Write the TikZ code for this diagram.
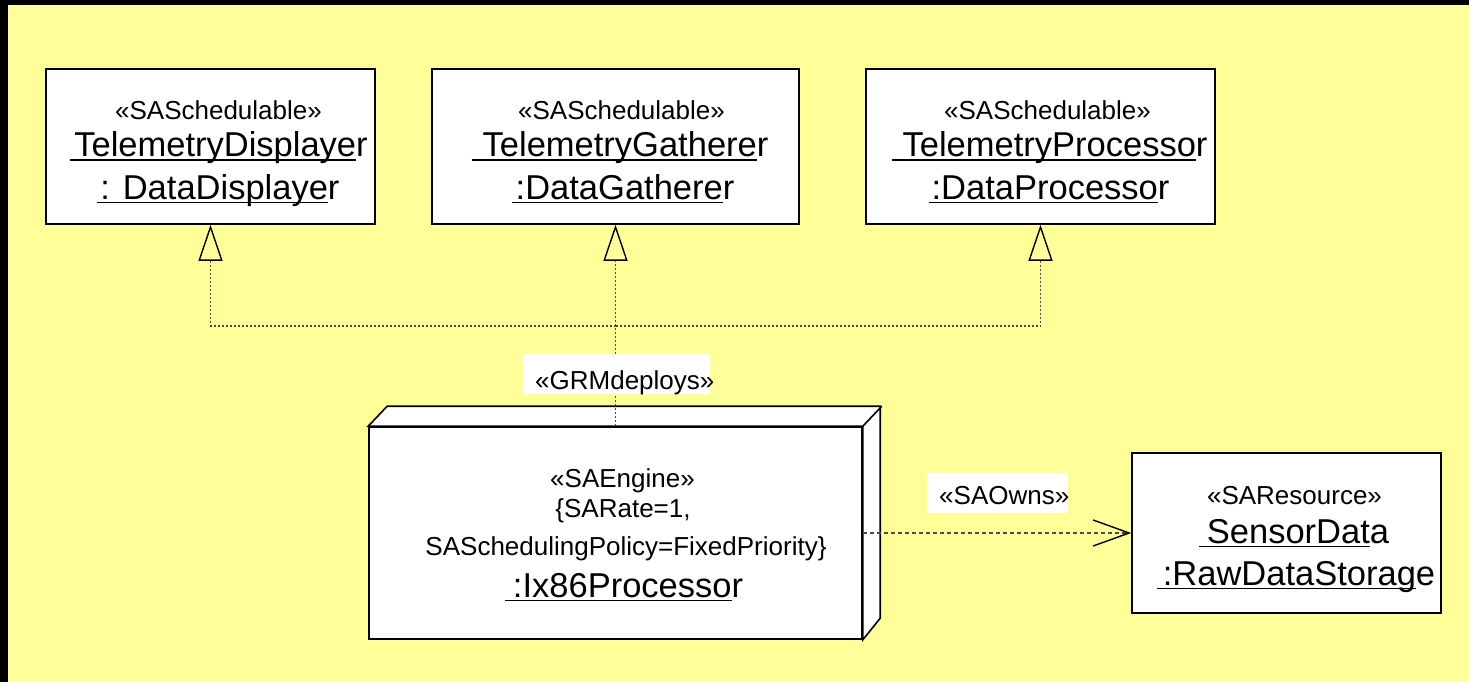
\documentclass[tikz,border=0pt]{standalone}
\usepackage{fontspec}
\setmainfont{Liberation Sans}
\usetikzlibrary{arrows.meta,calc}
\definecolor{notepaper}{HTML}{FFFF99}
\definecolor{linkgray}{HTML}{4A4A4A}

% underline everything but the trailing glyph(s), starting a little before the text
\newlength\ulw
\newcommand\ulname[3]{%
  \settowidth\ulw{#2}%
  \llap{\rule[-4.3pt]{#1}{1.8pt}}\rlap{\rule[-4.3pt]{\ulw}{1.8pt}}#2#3}

\tikzset{
  objbox/.style={draw=black, line width=1.6pt, fill=white, inner sep=0pt},
  stereo/.style={anchor=base, inner sep=0pt, font=\fontsize{26}{30}\selectfont},
  oname/.style={anchor=base, inner sep=0pt, font=\fontsize{34.5}{40}\selectfont},
  realize/.style={line width=1.5pt, draw=linkgray, dash pattern=on 2pt off 2pt},
  realizetip/.style={realize, -{Triangle[open, length=36pt, width=24pt, line width=1.4pt, color=black]}},
  owns/.style={line width=1.3pt, draw=linkgray, dash pattern=on 4pt off 3pt,
    -{Straight Barb[length=36pt, width=26pt, line width=1.4pt, color=black]}},
  tag/.style={fill=white, inner sep=0pt, anchor=base west, font=\fontsize{26}{30}\selectfont},
}

\begin{document}
\begin{tikzpicture}[x=1pt, y=-1pt]
  % page and frame
  \fill[notepaper] (0,0) rectangle (1469,682);
  \useasboundingbox (0,0) rectangle (1469,682);
  \fill[black] (0,0) rectangle (1469,5);
  \fill[black] (0,0) rectangle (8,682);

  % schedulable objects
  \node[objbox, minimum width=329pt, minimum height=155pt] (disp) at (210.5,146.5) {};
  \node[objbox, minimum width=367pt, minimum height=155pt] (gath) at (615.5,146.5) {};
  \node[objbox, minimum width=349pt, minimum height=155pt] (proc) at (1040.5,146.5) {};

  \node[stereo] (dispS) at (218.5,120) {«SASchedulable»};
  \node[oname] (dispN) at (221,157) {\ulname{4pt}{TelemetryDisplaye}{r}};
  \node[oname] (dispT) at (220,199) {\ulname{3pt}{: DataDisplaye}{r}};

  \node[stereo] (gathS) at (621.5,120) {«SASchedulable»};
  \node[oname] (gathN) at (625.5,157) {\ulname{11pt}{TelemetryGathere}{r}};
  \node[oname] (gathT) at (625,199) {\ulname{4pt}{:DataGathere}{r}};

  \node[stereo] (procS) at (1047.5,120) {«SASchedulable»};
  \node[oname] (procN) at (1055,157) {\ulname{11pt}{TelemetryProcesso}{r}};
  \node[oname] (procT) at (1050.5,199) {\ulname{3pt}{:DataProcesso}{r}};

  % engine node (3D box)
  \node[objbox, minimum width=493pt, minimum height=212pt] (engine) at (615.5,533) {};
  \filldraw[fill=white, draw=black, line width=1.6pt, line join=miter]
    (engine.north west) -- ++(19,-20) -- ++(493,0) -- ++(0,212)
    -- (engine.south east) -- (engine.north east) -- cycle;
  \draw[black, line width=1.6pt] (engine.north east) -- ++(19,-20);

  \node[stereo] (engS) at (622.5,487) {«SAEngine»};
  \node[stereo] (engR) at (623,517) {\{SARate=1,};
  \node[stereo] (engP) at (626,555) {SASchedulingPolicy=FixedPriority\}};
  \node[oname] (engN) at (628,597) {\ulname{8pt}{:Ix86Processo}{r}};

  % resource
  \node[objbox, minimum width=309pt, minimum height=160pt] (res) at (1286.5,533) {};
  \node[stereo] (resS) at (1294.5,504) {«SAResource»};
  \node[oname] (resN) at (1298,543) {\ulname{8pt}{SensorDat}{a}};
  \node[oname] (resT) at (1299,585) {\ulname{6pt}{:RawDataStorag}{e}};

  % deployment realizations
  \coordinate (bus) at (615.5,326);
  \draw[realize] (engine.north) -- (bus);
  \draw[realizetip] (bus) -| (disp.south);
  \draw[realizetip] (bus) -- (gath.south);
  \draw[realizetip] (bus) -| (proc.south);

  % ownership
  \draw[owns] (engine.east) -- (res.west);

  % connector labels
  \node[tag, text height=35pt, text depth=5pt] (deploys) at (523,389)
    {\makebox[187pt][l]{\hspace{12pt}«GRMdeploys»}};
  \node[tag, text height=31pt, text depth=9pt] (ownslbl) at (927,504)
    {\makebox[141pt][l]{\hspace{12pt}«SAOwns»}};
\end{tikzpicture}
\end{document}
